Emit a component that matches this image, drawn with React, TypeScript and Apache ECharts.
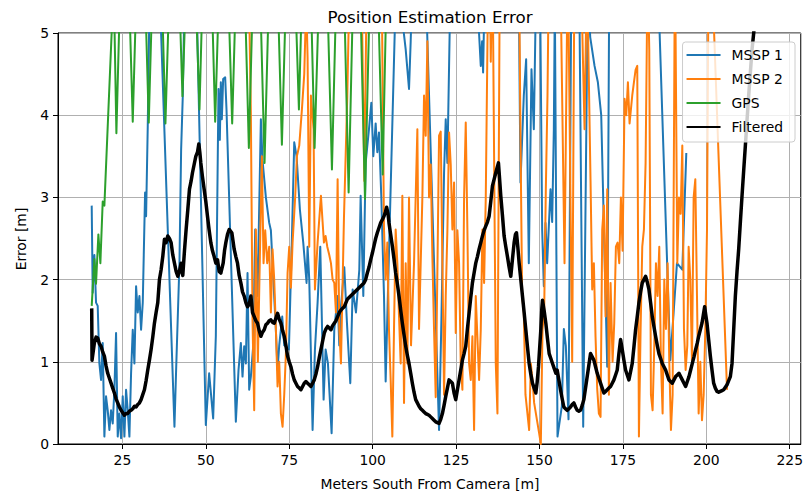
import React, { useEffect, useRef } from "react";
import * as echarts from "echarts";

// Axis tick positions
const xTicks = [25, 50, 75, 100, 125, 150, 175, 200, 225];

// MSSP 1 estimate error [distance m, error m]
const mssp1: [number, number][] = [
  [15.8, 2.9], [16.1, 1.84], [16.6, 2.3], [17.1, 1.72], [17.6, 1.68], [18.1, 0.98], [18.6, 0.78], [19.1, 1.23],
  [19.6, 0.09], [20.1, 0.58], [20.6, 0.41], [21.1, 0.17], [21.6, 0.41], [22.1, 0.25], [22.6, 0.66], [23.1, 1.35],
  [23.6, 0.09], [24.1, 0.37], [24.6, 0.07], [25.1, 0.58], [25.6, 0.09], [26.1, 0.66], [26.6, 0.41], [27.1, 0.09],
  [27.6, 0.86], [28.1, 1.39], [28.6, 0.98], [29.1, 1.92], [29.6, 1.6], [30.1, 1.8], [30.6, 1.39], [31.1, 1.72],
  [31.8, 3.06], [32.1, 2.77], [32.6, 3.87], [33.1, 5.3], [34.1, 6.5], [35.6, 6.2], [40.6, 0.21], [41.1, 0.9],
  [42.1, 2.2], [42.6, 3.58], [43.1, 4.24], [44.5, 7.5], [46.5, 6.8], [50.0, 0.23], [51.0, 0.86], [52.2, 0.31],
  [53.0, 1.31], [53.8, 4.32], [54.2, 3.7], [54.5, 4.4], [54.8, 3.95], [55.2, 4.44], [55.8, 4.46], [56.2, 4.07],
  [59.0, 0.27], [59.8, 0.9], [60.5, 1.23], [61.0, 0.82], [61.5, 1.19], [62.0, 0.98], [62.5, 2.08], [63.0, 0.66],
  [63.5, 0.82], [64.2, 1.19], [64.8, 2.61], [65.5, 1.8], [66.5, 3.95], [67.0, 3.45], [68.0, 3.0], [69.0, 2.69],
  [69.5, 2.6], [70.9, 1.47], [71.5, 0.9], [72.0, 1.2], [72.9, 1.55], [73.5, 1.2], [74.9, 1.15], [75.8, 2.5],
  [76.5, 3.67], [77.2, 3.5], [78.2, 2.85], [79.2, 2.45], [80.2, 1.96], [80.5, 2.4], [81.0, 2.0], [82.0, 0.17],
  [82.7, 1.15], [83.5, 1.72], [84.3, 2.4], [85.3, 0.54], [85.9, 1.15], [86.6, 0.98], [87.7, 0.13], [88.5, 1.39],
  [89.5, 1.8], [90.0, 1.2], [90.5, 1.67], [91.5, 2.15], [92.3, 1.47], [93.3, 0.74], [94.0, 1.88], [95.0, 1.6],
  [96.0, 2.12], [96.4, 3.02], [97.2, 1.8], [97.9, 3.42], [98.9, 3.83], [99.6, 4.15], [100.2, 3.5], [100.9, 3.9],
  [101.4, 3.55], [101.9, 3.79], [102.6, 3.0], [103.4, 1.8], [103.9, 0.76], [105.0, 2.5], [107.0, 5.6], [108.5, 5.3],
  [109.9, 4.8], [110.4, 4.56], [110.9, 4.32], [111.4, 4.9], [112.0, 5.8], [114.5, 7.5], [119.9, 0.17], [120.6, 1.5],
  [121.4, 3.3], [121.9, 3.95], [122.4, 3.42], [123.5, 6.0], [128.0, 8.0], [132.4, 4.6], [132.8, 4.9], [133.1, 4.52],
  [134.0, 6.5], [139.0, 9.0], [143.8, 5.5], [144.3, 3.18], [145.3, 4.24], [146.0, 4.68], [146.8, 2.2], [147.6, 4.56],
  [148.3, 3.83], [149.0, 5.6], [150.2, 5.4], [150.8, 2.61], [151.3, 1.92], [151.8, 2.69], [152.3, 2.2], [152.8, 2.65],
  [153.3, 3.1], [153.8, 2.7], [154.3, 3.83], [154.6, 5.4], [155.4, 0.09], [156.7, 0.46], [157.3, 1.4], [157.9, 1.19],
  [158.7, 0.3], [159.6, 6.0], [160.5, 6.5], [161.9, 5.6], [163.1, 0.21], [164.5, 5.6], [165.2, 4.95], [166.5, 4.6],
  [167.5, 4.4], [168.5, 4.0], [170.3, 0.94], [172.0, 14.0], [185.2, 6.0], [189.2, 1.02], [190.2, 1.6], [191.2, 2.2],
  [192.8, 2.12], [194.0, 3.54],
];

// MSSP 2 estimate error
const mssp2: [number, number][] = [
  [62.8, 5.8], [63.5, 4.03], [64.0, 1.5], [64.5, 0.41], [65.0, 2.61], [65.6, 1.0], [66.2, 2.28], [66.8, 3.5],
  [67.3, 2.2], [67.8, 2.6], [68.4, 2.2], [69.0, 2.4], [69.5, 1.6], [70.0, 2.37], [70.5, 2.0], [71.0, 1.4],
  [71.5, 0.7], [72.0, 1.0], [72.5, 0.37], [73.0, 0.21], [73.5, 0.6], [74.0, 1.1], [74.5, 2.08], [75.0, 2.4],
  [75.5, 1.9], [76.0, 2.45], [76.8, 3.02], [77.3, 3.5], [78.0, 3.63], [78.8, 4.07], [79.5, 4.5], [80.1, 5.4],
  [80.5, 4.7], [81.0, 2.4], [81.5, 4.24], [82.3, 3.83], [82.7, 1.88], [83.5, 2.45], [84.5, 3.02], [85.0, 2.7],
  [85.4, 2.45], [85.9, 2.53], [86.4, 2.4], [87.0, 2.3], [87.5, 2.2], [88.0, 2.0], [88.5, 1.96], [89.0, 1.6],
  [89.5, 3.22], [90.0, 1.4], [90.5, 0.98], [91.4, 2.75], [92.4, 4.24], [93.5, 6.5], [96.0, 7.5], [97.5, 3.2],
  [98.5, 6.5], [102.5, 6.5], [103.4, 2.61], [103.9, 2.0], [104.4, 2.45], [104.9, 1.39], [105.4, 0.78], [105.9, 0.09],
  [106.4, 1.4], [106.9, 2.61], [107.4, 2.2], [107.9, 1.55], [108.4, 0.98], [108.9, 3.02], [109.4, 0.5], [109.9, 2.2],
  [110.4, 0.98], [110.9, 3.0], [111.5, 1.2], [112.4, 2.2], [113.4, 3.83], [113.9, 1.4], [114.9, 3.0], [115.4, 4.24],
  [115.9, 3.75], [116.4, 4.9], [116.9, 3.0], [117.4, 3.4], [117.9, 2.28], [118.4, 1.39], [118.9, 0.57], [119.4, 2.1],
  [119.9, 3.75], [120.4, 3.8], [120.9, 2.2], [121.4, 0.6], [121.9, 1.8], [122.4, 2.6], [122.9, 3.79], [123.4, 3.4],
  [123.9, 2.61], [124.4, 3.18], [124.9, 1.35], [125.4, 2.6], [125.9, 2.2], [126.4, 0.98], [126.9, 0.66], [127.4, 3.0],
  [127.9, 3.91], [128.4, 2.6], [128.9, 0.98], [129.4, 0.78], [129.9, 1.31], [130.4, 0.17], [130.9, 1.8], [131.9, 0.78],
  [132.4, 1.39], [132.9, 2.61], [133.4, 1.96], [133.9, 3.0], [134.4, 4.85], [134.9, 6.5], [135.4, 4.65], [135.9, 6.0],
  [136.9, 0.98], [137.4, 0.37], [138.2, 6.5], [143.6, 7.0], [144.3, 3.75], [144.8, 1.8], [145.3, 1.6], [145.8, 0.6],
  [146.9, 0.17], [147.4, 0.98], [147.9, 0.78], [148.4, 0.5], [149.9, 0.13], [150.4, 0.0], [150.9, 1.39], [151.4, 1.6],
  [151.9, 3.1], [152.4, 4.24], [153.0, 6.5], [156.0, 6.5], [157.5, 2.2], [158.5, 6.0], [159.8, 1.0], [160.5, 6.0],
  [162.0, 6.5], [163.5, 3.83], [164.1, 5.5], [164.6, 4.9], [165.3, 3.2], [165.8, 1.88], [166.3, 2.2], [166.8, 1.3],
  [167.3, 0.67], [167.8, 0.37], [168.3, 0.33], [168.8, 2.61], [169.3, 2.9], [169.8, 1.55], [170.3, 3.1], [170.8, 0.6],
  [171.3, 1.96], [171.9, 1.0], [172.4, 1.47], [172.9, 2.4], [173.4, 2.45], [173.9, 2.2], [174.4, 3.0], [174.9, 2.35],
  [175.5, 4.2], [176.0, 4.0], [176.5, 4.4], [177.0, 3.9], [177.8, 4.24], [178.3, 4.4], [178.8, 4.55], [179.3, 4.6],
  [179.8, 0.09], [180.3, 1.39], [180.8, 2.4], [181.3, 2.61], [181.8, 3.42], [182.4, 5.8], [182.9, 4.8], [183.4, 0.6],
  [183.9, 0.41], [184.4, 1.19], [184.9, 2.2], [185.4, 1.8], [185.9, 2.4], [186.4, 1.0], [186.9, 0.37], [187.4, 2.0],
  [187.9, 1.4], [188.4, 2.2], [188.9, 1.0], [189.4, 0.17], [189.9, 0.6], [190.6, 6.0], [191.3, 2.2], [191.8, 3.0],
  [192.3, 2.8], [192.8, 3.63], [193.3, 1.4], [193.8, 0.9], [194.3, 1.2], [194.7, 2.4], [195.2, 2.0], [195.7, 1.0],
  [196.2, 3.0], [196.7, 3.22], [197.2, 1.8], [197.7, 0.37], [198.2, 1.0], [198.7, 0.29], [199.2, 0.6], [199.7, 1.4],
  [200.2, 2.6], [200.7, 6.0], [201.2, 5.4], [201.8, 5.6], [206.2, 0.66],
];

// GPS error
const gps: [number, number][] = [
  [15.8, 1.68], [16.6, 2.25], [17.1, 1.95], [17.8, 2.55], [18.4, 2.2], [19.1, 2.95], [19.6, 2.9], [22.4, 5.6],
  [23.2, 3.78], [25.6, 7.5], [28.1, 3.92], [30.5, 7.4], [32.9, 3.91], [35.4, 7.6], [37.9, 3.9], [40.5, 7.5],
  [43.0, 4.23], [45.5, 7.3], [48.1, 4.07], [50.4, 7.6], [52.8, 3.92], [55.3, 7.4], [57.9, 3.9], [60.4, 7.5],
  [62.9, 3.6], [65.2, 7.2], [67.6, 3.42], [70.2, 7.5], [72.8, 3.64], [75.3, 7.4], [77.9, 4.07], [80.2, 7.6],
  [82.6, 3.6], [85.2, 7.3], [87.8, 3.34], [90.3, 7.5], [92.8, 3.06], [95.2, 7.4], [97.7, 2.98], [100.3, 7.5],
  [103.0, 3.28], [105.0, 7.2],
];

// Filtered position error
const filtered: [number, number][] = [
  [15.8, 1.65], [15.9, 1.02], [16.6, 1.23], [17.1, 1.3], [17.6, 1.29], [18.1, 1.22], [18.6, 1.19], [19.1, 1.12],
  [19.6, 1.07], [20.1, 0.95], [20.6, 0.86], [21.1, 0.8], [21.6, 0.74], [22.1, 0.68], [22.6, 0.62], [23.1, 0.55],
  [23.6, 0.5], [24.1, 0.45], [24.6, 0.41], [25.1, 0.38], [25.6, 0.35], [26.1, 0.37], [26.6, 0.37], [27.1, 0.4],
  [27.6, 0.41], [28.1, 0.43], [28.6, 0.46], [29.1, 0.45], [29.6, 0.48], [30.1, 0.5], [30.6, 0.54], [31.1, 0.6],
  [31.6, 0.66], [32.1, 0.77], [32.6, 0.9], [33.1, 1.02], [33.6, 1.15], [34.1, 1.3], [34.6, 1.47], [35.1, 1.6],
  [35.6, 1.72], [36.1, 2.0], [36.6, 2.12], [37.1, 2.28], [37.6, 2.49], [38.1, 2.45], [38.6, 2.53], [39.1, 2.5],
  [39.6, 2.45], [40.1, 2.3], [40.6, 2.2], [41.1, 2.1], [41.6, 2.04], [42.1, 2.1], [42.6, 2.2], [43.1, 2.05],
  [43.6, 2.35], [44.1, 2.61], [44.6, 2.85], [45.1, 3.1], [45.6, 3.2], [46.0, 3.3], [46.5, 3.4], [47.0, 3.5],
  [47.5, 3.55], [47.9, 3.65], [48.2, 3.55], [48.5, 3.42], [49.0, 3.25], [49.5, 3.1], [50.0, 2.95], [50.5, 2.77],
  [51.0, 2.6], [51.5, 2.45], [52.0, 2.35], [52.5, 2.28], [53.0, 2.2], [53.5, 2.24], [54.0, 2.1], [54.5, 2.08],
  [55.2, 2.2], [55.6, 2.35], [56.0, 2.45], [56.5, 2.55], [57.0, 2.61], [57.8, 2.57], [58.5, 2.37], [59.0, 2.28],
  [59.5, 2.2], [60.0, 2.05], [60.5, 1.96], [61.0, 1.85], [61.5, 1.8], [62.0, 1.72], [62.5, 1.67], [63.0, 1.7],
  [63.5, 1.8], [64.0, 1.6], [64.5, 1.55], [65.0, 1.5], [65.5, 1.47], [66.0, 1.38], [66.5, 1.31], [67.0, 1.36],
  [67.5, 1.39], [68.0, 1.45], [68.5, 1.47], [69.0, 1.5], [69.5, 1.51], [70.0, 1.48], [70.5, 1.47], [71.0, 1.53],
  [71.5, 1.59], [72.0, 1.52], [72.5, 1.47], [73.0, 1.38], [73.5, 1.31], [74.0, 1.2], [74.5, 1.07], [75.0, 1.0],
  [75.5, 0.94], [76.0, 0.85], [76.5, 0.78], [77.0, 0.74], [77.5, 0.7], [78.0, 0.68], [78.5, 0.66], [79.0, 0.7],
  [79.5, 0.74], [80.0, 0.76], [80.5, 0.74], [81.0, 0.72], [81.5, 0.7], [82.0, 0.74], [82.5, 0.78], [83.0, 0.85],
  [83.5, 0.94], [84.0, 1.05], [84.5, 1.15], [85.0, 1.25], [85.5, 1.35], [86.0, 1.4], [86.5, 1.43], [87.0, 1.41],
  [87.5, 1.39], [88.0, 1.44], [88.5, 1.47], [89.0, 1.5], [89.5, 1.55], [90.0, 1.6], [90.5, 1.63], [91.0, 1.65],
  [91.5, 1.67], [92.0, 1.72], [92.4, 1.76], [93.4, 1.8], [94.4, 1.84], [95.4, 1.88], [96.4, 1.92], [97.4, 1.96],
  [97.9, 2.0], [98.4, 2.08], [98.9, 2.15], [99.4, 2.24], [99.9, 2.32], [100.4, 2.41], [100.9, 2.5], [101.4, 2.57],
  [101.9, 2.63], [102.4, 2.69], [102.9, 2.73], [103.4, 2.77], [103.8, 2.82], [104.2, 2.88], [104.6, 2.8], [104.9, 2.69],
  [105.4, 2.55], [105.9, 2.41], [106.4, 2.25], [106.9, 2.08], [107.4, 1.95], [107.9, 1.8], [108.4, 1.63], [108.9, 1.47],
  [109.4, 1.33], [109.9, 1.19], [110.4, 1.08], [110.9, 0.98], [111.4, 0.86], [111.9, 0.74], [112.4, 0.63], [112.9, 0.54],
  [113.4, 0.5], [113.9, 0.46], [114.4, 0.43], [114.9, 0.41], [115.4, 0.39], [115.9, 0.37], [116.4, 0.36], [116.9, 0.35],
  [117.4, 0.33], [117.9, 0.31], [118.4, 0.29], [118.9, 0.27], [119.4, 0.26], [119.9, 0.25], [120.4, 0.3], [120.9, 0.37],
  [121.4, 0.47], [121.9, 0.58], [122.4, 0.68], [122.9, 0.78], [123.4, 0.76], [123.9, 0.74], [124.4, 0.62], [124.9, 0.54],
  [125.4, 0.66], [125.9, 0.78], [126.4, 0.9], [126.9, 1.02], [127.4, 1.1], [127.9, 1.19], [128.4, 1.4], [128.9, 1.59],
  [129.4, 1.78], [129.9, 1.96], [130.4, 2.08], [130.9, 2.2], [131.4, 2.28], [131.9, 2.37], [132.4, 2.45], [132.9, 2.53],
  [133.4, 2.6], [133.9, 2.65], [134.4, 2.7], [134.9, 2.77], [135.4, 2.95], [135.9, 3.14], [136.4, 3.22], [136.9, 3.3],
  [137.3, 3.36], [137.7, 3.42], [138.0, 3.25], [138.4, 3.02], [138.9, 2.78], [139.4, 2.53], [139.9, 2.4], [140.4, 2.28],
  [140.9, 2.15], [141.4, 2.04], [141.9, 2.25], [142.4, 2.45], [142.8, 2.55], [143.1, 2.57], [143.5, 2.4], [143.9, 2.2],
  [144.4, 2.0], [144.9, 1.8], [145.4, 1.6], [145.9, 1.39], [146.4, 1.18], [146.9, 0.98], [147.4, 0.85], [147.9, 0.74],
  [148.4, 0.68], [148.9, 0.62], [149.3, 0.75], [149.7, 0.94], [150.1, 1.2], [150.4, 1.39], [150.7, 1.65], [150.9, 1.75],
  [151.4, 1.62], [151.9, 1.47], [152.4, 1.28], [152.9, 1.1], [153.4, 1.04], [153.9, 0.98], [154.4, 0.92], [154.9, 0.86],
  [155.3, 0.9], [155.8, 0.78], [156.3, 0.66], [156.8, 0.55], [157.3, 0.45], [157.8, 0.43], [158.3, 0.41], [158.8, 0.43],
  [159.3, 0.45], [159.8, 0.48], [160.3, 0.5], [160.8, 0.45], [161.3, 0.41], [161.8, 0.4], [162.3, 0.41], [162.8, 0.47],
  [163.3, 0.54], [163.8, 0.68], [164.3, 0.82], [164.8, 0.96], [165.3, 1.1], [165.8, 1.06], [166.3, 1.02], [166.8, 0.94],
  [167.3, 0.86], [167.8, 0.8], [168.3, 0.74], [168.8, 0.68], [169.3, 0.62], [169.8, 0.64], [170.3, 0.66], [170.8, 0.68],
  [171.3, 0.7], [171.8, 0.74], [172.3, 0.78], [172.8, 0.84], [173.3, 0.9], [173.8, 1.1], [174.3, 1.27], [174.8, 1.15],
  [175.3, 1.02], [175.8, 0.9], [176.3, 0.84], [176.8, 0.78], [177.3, 0.88], [177.8, 0.98], [178.3, 1.18], [178.8, 1.39],
  [179.3, 1.55], [179.8, 1.72], [180.3, 1.85], [180.8, 1.96], [181.3, 2.0], [181.8, 2.04], [182.3, 1.97], [182.8, 1.88],
  [183.3, 1.72], [183.8, 1.55], [184.3, 1.43], [184.8, 1.31], [185.3, 1.2], [185.8, 1.1], [186.3, 1.04], [186.8, 0.98],
  [187.3, 0.94], [187.8, 0.9], [188.3, 0.84], [188.8, 0.78], [189.3, 0.76], [189.8, 0.74], [190.3, 0.78], [190.8, 0.82],
  [191.3, 0.84], [191.8, 0.86], [192.3, 0.82], [192.8, 0.78], [193.3, 0.74], [193.8, 0.7], [194.3, 0.76], [194.8, 0.82],
  [195.3, 0.9], [195.8, 0.98], [196.3, 1.06], [196.8, 1.15], [197.3, 1.23], [197.7, 1.31], [198.2, 1.39], [198.7, 1.47],
  [199.1, 1.57], [199.5, 1.67], [199.8, 1.58], [200.2, 1.47], [200.7, 1.27], [201.2, 1.07], [201.7, 0.9], [202.2, 0.74],
  [202.7, 0.68], [203.2, 0.64], [203.7, 0.63], [204.2, 0.64], [204.7, 0.65], [205.2, 0.66], [205.7, 0.69], [206.2, 0.72],
  [206.7, 0.77], [207.2, 0.82], [207.7, 0.98], [208.2, 1.39], [208.7, 1.8], [209.2, 2.1], [209.7, 2.37], [210.2, 2.7],
  [210.7, 3.02], [211.2, 3.33], [211.7, 3.63], [212.2, 3.94], [212.7, 4.24], [213.2, 4.52], [213.7, 4.8], [214.2, 5.0],
  [216.0, 5.9], [218.0, 6.8],
];

const FONT = "DejaVu Sans";

export default function App() {
  const ref = useRef<HTMLDivElement>(null);

  useEffect(() => {
    if (!ref.current) return;
    const chart = echarts.init(ref.current, null, { renderer: "svg" });

    const lineSeries = (name: string, data: [number, number][], color: string, width: number) => ({
      name,
      type: "line",
      data,
      symbol: "none",
      showSymbol: false,
      clip: true,
      lineStyle: { color, width, join: "round", cap: "butt" },
      itemStyle: { color },
      emphasis: { disabled: true },
    });

    chart.setOption({
      animation: false,
      backgroundColor: "#ffffff",
      textStyle: { fontFamily: FONT },
      grid: {
        left: 58,
        right: 4,
        top: 33,
        bottom: 52,
        show: true,
        borderColor: "#000",
        borderWidth: 1,
        containLabel: false,
      },
      graphic: [
        {
          type: "text",
          x: 430,
          y: 17,
          style: {
            text: "Position Estimation Error",
            align: "center",
            verticalAlign: "middle",
            fontFamily: FONT,
            fontSize: 16.7,
            fill: "#000",
          },
        },
        {
          type: "text",
          x: 430,
          y: 484,
          style: {
            text: "Meters South From Camera [m]",
            align: "center",
            verticalAlign: "middle",
            fontFamily: FONT,
            fontSize: 13.9,
            fill: "#000",
          },
        },
        {
          type: "text",
          x: 21,
          y: 239,
          rotation: Math.PI / 2,
          style: {
            text: "Error [m]",
            align: "center",
            verticalAlign: "middle",
            fontFamily: FONT,
            fontSize: 13.9,
            fill: "#000",
          },
        },
      ],
      legend: {
        orient: "vertical",
        right: 11,
        top: 42,
        icon: "rect",
        itemWidth: 34,
        itemHeight: 2,
        itemGap: 8,
        padding: [5, 12, 7, 4],
        backgroundColor: "rgba(255,255,255,0.8)",
        borderColor: "#cccccc",
        borderWidth: 1,
        borderRadius: 3,
        textStyle: {
          fontFamily: FONT,
          fontSize: 13.9,
          color: "#000",
          lineHeight: 16,
          padding: [0, 0, 0, 6],
        },
        data: ["MSSP 1", "MSSP 2", "GPS", "Filtered"],
      },
      xAxis: {
        type: "value",
        min: 5.7,
        max: 228.3,
        axisLine: { show: true, onZero: false, lineStyle: { color: "#000", width: 1 } },
        axisTick: { show: true, length: 5, customValues: xTicks, lineStyle: { color: "#000", width: 1 } },
        axisLabel: { customValues: xTicks, color: "#000", fontFamily: FONT, fontSize: 13.9, margin: 9 },
        splitLine: { show: true, lineStyle: { color: "#b0b0b0", width: 1 } },
      },
      yAxis: {
        type: "value",
        min: 0,
        max: 5,
        interval: 1,
        axisLine: { show: true, lineStyle: { color: "#000", width: 1 } },
        axisTick: { show: true, length: 5, lineStyle: { color: "#000", width: 1 } },
        axisLabel: { color: "#000", fontFamily: FONT, fontSize: 13.9, margin: 9 },
        splitLine: { show: true, lineStyle: { color: "#b0b0b0", width: 1 } },
      },
      series: [
        lineSeries("MSSP 1", mssp1, "#1f77b4", 2),
        lineSeries("MSSP 2", mssp2, "#ff7f0e", 2),
        lineSeries("GPS", gps, "#2ca02c", 2),
        lineSeries("Filtered", filtered, "#000000", 3.5),
      ],
    });

    return () => chart.dispose();
  }, []);

  return (
    <div
      ref={ref}
      style={{ position: "fixed", left: 0, top: 0, width: 806, height: 496, background: "#fff" }}
    />
  );
}
